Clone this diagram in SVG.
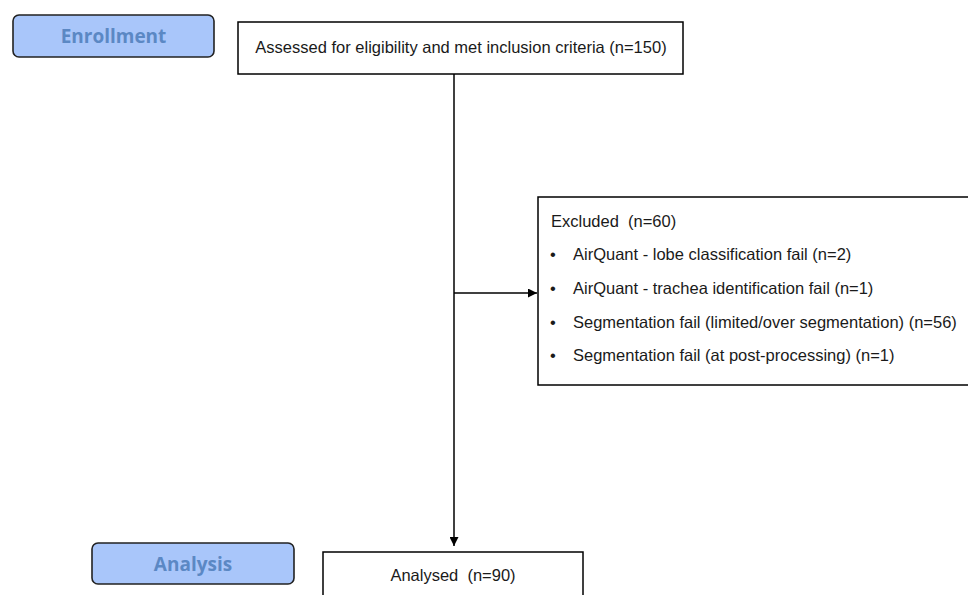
<svg xmlns="http://www.w3.org/2000/svg" width="968" height="595" viewBox="0 0 968 595">
<defs>
<marker id="ah" viewBox="0 0 10 10" refX="10" refY="5" markerWidth="10" markerHeight="9" markerUnits="userSpaceOnUse" orient="auto">
<path d="M0,0 L10,5 L0,10 z" fill="#000"/>
</marker>
<style>
.stage rect{fill:#a9c6fa;stroke:#222;stroke-width:1.6}
.stage text{font-family:"Open Sans","Liberation Sans",sans-serif;font-weight:bold;font-size:19px;fill:#5b88c4;text-anchor:middle}
.box rect{fill:#fff;stroke:#000;stroke-width:1.5}
.box text{font-family:"Liberation Sans",Arial,sans-serif;font-size:16.5px;fill:#1a1a1a;white-space:pre}
.conn line{stroke:#000;stroke-width:1.5;fill:none}
</style>
</defs>
<rect width="968" height="595" fill="#fff"/>
<g id="enrollment" class="stage">
<rect x="13" y="15" width="201" height="42" rx="6"/>
<text x="113.5" y="43">Enrollment</text>
</g>
<g id="analysis" class="stage">
<rect x="92" y="543" width="202" height="41" rx="6"/>
<text x="193" y="571">Analysis</text>
</g>
<g id="assessed" class="box">
<rect x="238" y="22" width="445" height="52"/>
<text x="461" y="53" text-anchor="middle">Assessed for eligibility and met inclusion criteria (n=150)</text>
</g>
<g id="excluded" class="box">
<rect x="538" y="197" width="440" height="188"/>
<text x="551" y="227" xml:space="preserve">Excluded  (n=60)</text>
<text x="550" y="260">•</text><text x="573" y="260">AirQuant - lobe classification fail (n=2)</text>
<text x="550" y="294">•</text><text x="573" y="294">AirQuant - trachea identification fail (n=1)</text>
<text x="550" y="328">•</text><text x="573" y="328">Segmentation fail (limited/over segmentation) (n=56)</text>
<text x="550" y="361">•</text><text x="573" y="361">Segmentation fail (at post-processing) (n=1)</text>
</g>
<g id="analysed" class="box">
<rect x="323" y="552" width="260" height="60"/>
<text x="453" y="581" text-anchor="middle" xml:space="preserve">Analysed  (n=90)</text>
</g>
<g id="connectors" class="conn">
<line x1="454" y1="74" x2="454" y2="546" marker-end="url(#ah)"/>
<line x1="454" y1="293" x2="537" y2="293" marker-end="url(#ah)"/>
</g>
</svg>
